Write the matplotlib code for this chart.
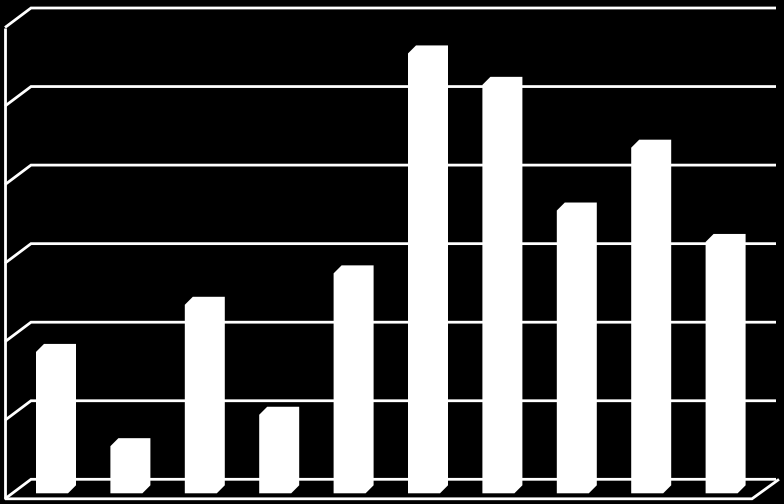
import matplotlib
matplotlib.use("Agg")
import matplotlib.pyplot as plt

# bar heights, gridlines every 5 up to 30
values = [9, 3, 12, 5, 14, 28, 26, 18, 22, 16]
categories = list(range(len(values)))
grid_step = 5
y_max = 30

W, H, DPI = 784, 504, 100

# pixel -> data scale (category spacing 74.4 px, 0..30 spans 471.3 px)
XP = 1 / 74.4
YP = y_max / 471.3


def main() -> None:
    fig = plt.figure(figsize=(W / DPI, H / DPI), dpi=DPI, facecolor="black")
    ax = fig.add_axes([0, 0, 1, 1])
    ax.set_facecolor("black")
    ax.set_axis_off()
    ax.set_xlim(-60 * XP, (W - 60) * XP)
    ax.set_ylim(-(H - 479.3) * YP, y_max + 8 * YP)

    line_kw = dict(color="white", lw=2.0, solid_joinstyle="miter",
                   solid_capstyle="butt", zorder=1)

    # walls
    wall_left = -29 * XP
    wall_right = 716 * XP
    depth_x = 26 * XP
    depth_y = 19.5 * YP

    for v in range(0, y_max + 1, grid_step):
        ax.plot([wall_left - depth_x, wall_left, wall_right],
                [v - depth_y, v, v], **line_kw)

    ax.plot([wall_left - depth_x] * 2, [-depth_y, y_max - depth_y], **line_kw)
    ax.plot([wall_left - depth_x, 692 * XP, 719 * XP],
            [-depth_y, -depth_y, 0], **line_kw)

    # bars: back face 32 px wide, sunk 6 px below wall, front face 8 px off
    half = 16 * XP
    sink = 6 * YP
    fx, fy = 8 * XP, 8 * YP
    for i, v in zip(categories, values):
        bl, br = i - half, i + half
        y0, y1 = -sink, v - sink
        xs = [bl - fx, bl - fx, bl, br, br, br - fx]
        ys = [y0 - fy, y1 - fy, y1, y1, y0, y0 - fy]
        ax.fill(xs, ys, color="white", lw=0, zorder=3)

    fig.savefig("out.png", dpi=DPI, facecolor="black")
    plt.close(fig)


if __name__ == "__main__":
    main()
